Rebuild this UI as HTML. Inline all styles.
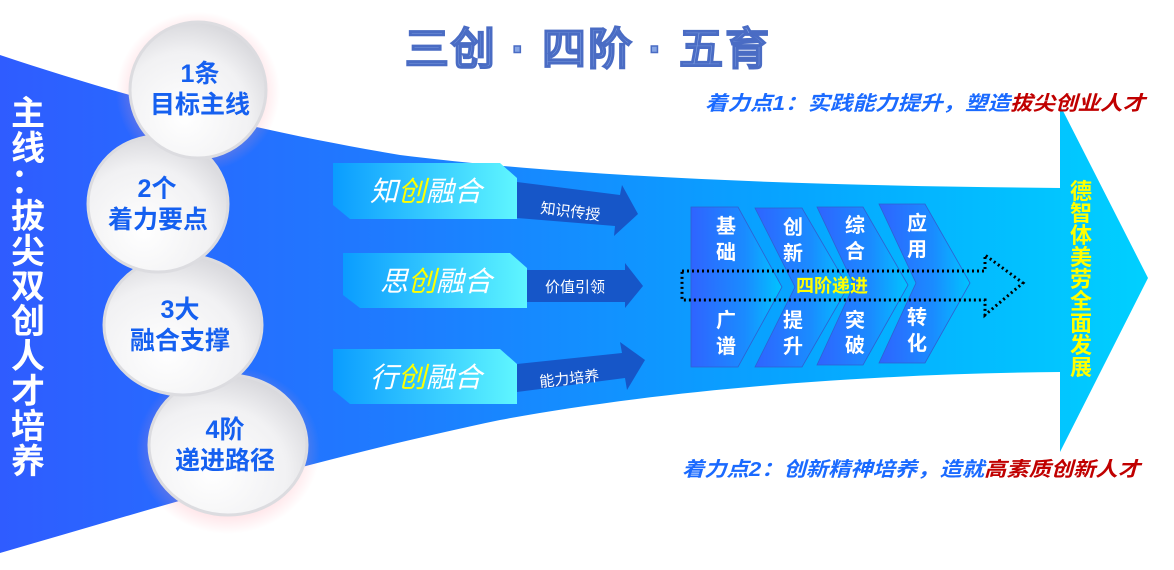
<!DOCTYPE html>
<html><head><meta charset="utf-8"><style>
html,body{margin:0;padding:0;background:#fff;}
svg{display:block;font-family:"Liberation Sans","Noto Sans CJK SC",sans-serif;}
</style></head><body>
<svg width="1174" height="570" viewBox="0 0 1174 570" xmlns="http://www.w3.org/2000/svg">
<defs>
<linearGradient id="main" x1="0" y1="0" x2="1" y2="0">
<stop offset="0" stop-color="#2f5cff"/><stop offset="0.35" stop-color="#1e7cff"/><stop offset="0.7" stop-color="#06a6ff"/><stop offset="1" stop-color="#00d0ff"/>
</linearGradient>
<linearGradient id="box" x1="0" y1="0" x2="1" y2="0">
<stop offset="0" stop-color="#0a9cff"/><stop offset="1" stop-color="#5ff6ff"/>
</linearGradient>
<linearGradient id="chev" x1="0" y1="0" x2="1" y2="0">
<stop offset="0" stop-color="#2f64ff"/><stop offset="0.6" stop-color="#1a8cff"/><stop offset="1" stop-color="#00c4ff"/>
</linearGradient>
<radialGradient id="circ" cx="0.4" cy="0.7" r="0.8">
<stop offset="0" stop-color="#ffffff"/><stop offset="0.6" stop-color="#f1f1f3"/><stop offset="1" stop-color="#cfcfd4"/>
</radialGradient>
<radialGradient id="glow" cx="0.5" cy="0.5" r="0.5">
<stop offset="0.7" stop-color="#ff9aa8" stop-opacity="0.35"/><stop offset="1" stop-color="#ff9aa8" stop-opacity="0"/>
</radialGradient>
</defs>

<path d="M0,55 C120,95 240,128 400,155 C600,180 850,186 1060,188 L1060,105 L1148,278 L1060,452 L1060,372 C850,374 650,392 500,420 C300,462 150,510 0,553 Z" fill="url(#main)"/>

<ellipse cx="198" cy="92" rx="82" ry="80" fill="url(#glow)"/>
<ellipse cx="228" cy="450" rx="92" ry="84" fill="url(#glow)"/>

<g stroke="#dcdce0" stroke-width="3">
<ellipse cx="228" cy="445" rx="79" ry="70" fill="url(#circ)"/>
<ellipse cx="183" cy="325" rx="79" ry="70" fill="url(#circ)"/>
<ellipse cx="158" cy="204" rx="70" ry="68" fill="url(#circ)"/>
<ellipse cx="198" cy="90" rx="68" ry="68" fill="url(#circ)"/>
</g>
<g fill="#1560f0" font-weight="bold" font-size="25" text-anchor="middle">
<text x="200" y="82">1条</text><text x="200" y="113">目标主线</text>
<text x="157" y="197">2个</text><text x="158" y="228">着力要点</text>
<text x="180" y="318">3大</text><text x="180" y="349">融合支撑</text>
<text x="225" y="438">4阶</text><text x="225" y="469">递进路径</text>
</g>

<g fill="#fff" font-weight="bold" font-size="34" text-anchor="middle">
<text x="28" y="125">主</text><text x="28" y="160">线</text><text x="28" y="193">：</text>
<text x="28" y="228">拔</text><text x="28" y="263">尖</text><text x="28" y="298">双</text>
<text x="28" y="333">创</text><text x="28" y="368">人</text><text x="28" y="403">才</text>
<text x="28" y="438">培</text><text x="28" y="473">养</text>
</g>

<text x="588" y="64" font-size="44" font-weight="bold" fill="#86a5e4" stroke="#4a6cc4" stroke-width="1.5" text-anchor="middle" letter-spacing="2" font-family="Liberation Sans,WenQuanYi Zen Hei,sans-serif">三创 · 四阶 · 五育</text>

<text x="705" y="110" font-size="20" font-weight="bold" font-style="italic" fill="#1a6aff" textLength="440" lengthAdjust="spacingAndGlyphs">着力点1：实践能力提升，塑造<tspan fill="#c00000">拔尖创业人才</tspan></text>
<text x="682" y="476" font-size="20" font-weight="bold" font-style="italic" fill="#1a6aff" textLength="458" lengthAdjust="spacingAndGlyphs">着力点2：创新精神培养，造就<tspan fill="#c00000">高素质创新人才</tspan></text>

<g fill="#1656c8">
<path d="M517,182 L620,195 L622,185 L638,214 L614,236 L615,226 L517,218 Z"/>
<path d="M527,270 L625,270 L625,263 L643,286 L625,308 L625,302 L527,302 Z"/>
<path d="M517,364 L622,353 L620,342 L645,360 L627,390 L625,378 L517,392 Z"/>
</g>
<g fill="#fff" font-size="15">
<text x="540" y="213" transform="rotate(7 540 213)">知识传授</text>
<text x="545" y="292">价值引领</text>
<text x="540" y="387" transform="rotate(-6 540 387)">能力培养</text>
</g>

<g fill="url(#box)">
<path d="M333,163 L500,163 L517,178 L517,219 L350,219 L333,205 Z"/>
<path d="M343,253 L510,253 L527,268 L527,308 L360,308 L343,295 Z"/>
<path d="M333,349 L500,349 L517,364 L517,404 L350,404 L333,390 Z"/>
</g>
<g fill="#fff" font-size="28" font-style="italic" text-anchor="middle">
<text x="426" y="201">知<tspan fill="#ffff00">创</tspan>融合</text>
<text x="436" y="291">思<tspan fill="#ffff00">创</tspan>融合</text>
<text x="426" y="387">行<tspan fill="#ffff00">创</tspan>融合</text>
</g>

<g fill="url(#chev)" stroke="#3060d0" stroke-width="0.8">
<path d="M879,204 L925,204 L970,283 L925,363 L879,363 L916,283 Z"/>
<path d="M817,207 L863,207 L908,285 L863,365 L817,365 L854,285 Z"/>
<path d="M755,208 L802,208 L848,287 L802,367 L755,367 L795,287 Z"/>
<path d="M691,207 L738,207 L782,287 L738,367 L691,367 Z"/>
</g>
<g fill="#fff" font-weight="bold" font-size="20" text-anchor="middle">
<text x="726" y="233">基</text><text x="726" y="259">础</text>
<text x="793" y="234">创</text><text x="793" y="260">新</text>
<text x="855" y="232">综</text><text x="855" y="258">合</text>
<text x="917" y="230">应</text><text x="917" y="256">用</text>
<text x="726" y="327">广</text><text x="726" y="353">谱</text>
<text x="793" y="327">提</text><text x="793" y="353">升</text>
<text x="855" y="327">突</text><text x="855" y="352">破</text>
<text x="917" y="324">转</text><text x="917" y="350">化</text>
</g>
<path d="M682,271 L985,271 L985,255 L1023,283 L985,315 L985,300 L682,300 Z" fill="none" stroke="#000" stroke-width="3" stroke-dasharray="2,3"/>
<text x="832" y="292" fill="#ffff00" font-weight="bold" font-size="18" text-anchor="middle">四阶递进</text>

<g fill="#ffff00" font-weight="bold" font-size="22" text-anchor="middle">
<text x="1081" y="199">德</text><text x="1081" y="221">智</text><text x="1081" y="243">体</text>
<text x="1081" y="265">美</text><text x="1081" y="287">劳</text><text x="1081" y="309">全</text>
<text x="1081" y="331">面</text><text x="1081" y="353">发</text><text x="1081" y="375">展</text>
</g>
</svg>
</body></html>
